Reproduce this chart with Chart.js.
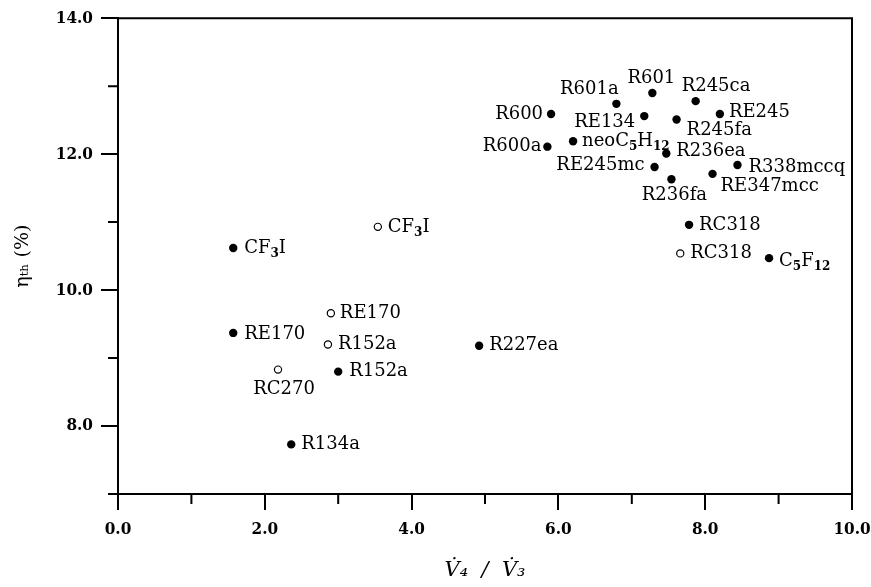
<!DOCTYPE html>
<html>
<head>
<meta charset="utf-8">
<script src="https://cdn.jsdelivr.net/npm/chart.js@4.4.0/dist/chart.umd.min.js"></script>
<style>
  html, body { margin: 0; padding: 0; background: #fff; }
</style>
</head>
<body>
<canvas id="myChart" width="871" height="587"></canvas>
<script>
// Filled markers
const filledNames = ['R601a', 'R601', 'R600', 'RE134', 'R245fa', 'neoC_5H_12', 'R600a', 'R236ea',
    'RE245mc', 'R236fa', 'R245ca', 'RE245', 'R338mccq', 'RE347mcc', 'RC318', 'C_5F_12',
    'CF_3I', 'RE170', 'R227ea', 'R152a', 'R134a'];
const filledX = [6.79, 7.28, 5.90, 7.17, 7.61, 6.20, 5.85, 7.47,
    7.31, 7.54, 7.87, 8.20, 8.44, 8.10, 7.78, 8.87,
    1.57, 1.57, 4.92, 3.00, 2.36];
const filledY = [12.74, 12.90, 12.59, 12.56, 12.51, 12.19, 12.11, 12.01,
    11.81, 11.63, 12.78, 12.59, 11.84, 11.71, 10.96, 10.47,
    10.62, 9.37, 9.18, 8.80, 7.73];

// Open markers
const openNames = ['CF_3I', 'RE170', 'R152a', 'RC270', 'RC318'];
const openX = [3.54, 2.90, 2.86, 2.18, 7.66];
const openY = [10.93, 9.66, 9.20, 8.83, 10.54];

// Tick labels (major ticks only)
const xTickLabels = ['0.0', '2.0', '4.0', '6.0', '8.0', '10.0'];
const yTickLabels = ['8.0', '10.0', '12.0', '14.0'];

// Where each label sits relative to its marker: [dx, dy, align]
const filledLabelPos = [[-27, -15, 'center'], [-1, -15, 'center'], [-8, 0, 'right'], [-9, 6, 'right'],
    [10, 11, 'left'], [9, 0, 'left'], [-6, 0, 'right'], [10, -2, 'left'],
    [-10, -2, 'right'], [3, 16, 'center'], [-14, -15, 'left'], [9, -2, 'left'],
    [11, 2, 'left'], [8, 12, 'left'], [10, 0, 'left'], [10, 3, 'left'],
    [11, 0, 'left'], [11, 1, 'left'], [10, 0, 'left'], [11, 0, 'left'], [10, 0, 'left']];
const openLabelPos = [[10, 0, 'left'], [9, 0, 'left'], [10, 0, 'left'], [6, 20, 'center'], [10, 0, 'left']];

const serif = "'DejaVu Serif', 'Liberation Serif', serif";
const tickSerif = "'DejaVu Serif Condensed', 'DejaVu Serif', serif";

// Split "neoC_5H_12" into normal / subscript pieces
function splitLabel(text) {
    const parts = [];
    const re = /_(\d+)/g;
    let last = 0, m;
    while ((m = re.exec(text)) !== null) {
        if (m.index > last) parts.push({ t: text.slice(last, m.index), sub: false });
        parts.push({ t: m[1], sub: true });
        last = re.lastIndex;
    }
    if (last < text.length) parts.push({ t: text.slice(last), sub: false });
    return parts;
}

const pointLabels = {
    id: 'pointLabels',
    afterDatasetsDraw(chart) {
        const ctx = chart.ctx;
        const normalFont = '18px ' + serif;
        const subFont = 'bold 12px ' + serif;
        ctx.save();
        ctx.fillStyle = '#000';
        ctx.textBaseline = 'middle';
        ctx.textAlign = 'left';
        chart.data.datasets.forEach(function(ds, di) {
            const meta = chart.getDatasetMeta(di);
            meta.data.forEach(function(pt, i) {
                const pos = ds.labelPos[i];
                const parts = splitLabel(ds.names[i]);
                let width = 0;
                parts.forEach(function(p) {
                    ctx.font = p.sub ? subFont : normalFont;
                    p.w = ctx.measureText(p.t).width;
                    width += p.w;
                });
                let x = pt.x + pos[0];
                if (pos[2] === 'right') x -= width;
                else if (pos[2] === 'center') x -= width / 2;
                const y = pt.y + pos[1];
                parts.forEach(function(p) {
                    ctx.font = p.sub ? subFont : normalFont;
                    ctx.fillText(p.t, x, p.sub ? y + 6 : y);
                    x += p.w;
                });
            });
        });
        ctx.restore();
    }
};

// Frame on top/right and the short minor ticks
const frameAndMinorTicks = {
    id: 'frameAndMinorTicks',
    afterDraw(chart) {
        const { ctx, chartArea, scales } = chart;
        ctx.save();
        ctx.strokeStyle = '#000';
        ctx.lineWidth = 2;
        ctx.beginPath();
        ctx.moveTo(chartArea.left, chartArea.top);
        ctx.lineTo(chartArea.right, chartArea.top);
        ctx.lineTo(chartArea.right, chartArea.bottom);
        ctx.stroke();
        ctx.beginPath();
        for (let v = 1; v < 10; v += 2) {
            const px = scales.x.getPixelForValue(v);
            ctx.moveTo(px, chartArea.bottom);
            ctx.lineTo(px, chartArea.bottom + 10);
        }
        for (let v = 7; v < 14; v += 2) {
            const py = scales.y.getPixelForValue(v);
            ctx.moveTo(chartArea.left - 10, py);
            ctx.lineTo(chartArea.left, py);
        }
        ctx.stroke();
        ctx.restore();
    }
};

const ctx = document.getElementById('myChart');
new Chart(ctx, {
    type: 'scatter',
    data: {
        datasets: [{
            label: 'filled',
            names: filledNames,
            labelPos: filledLabelPos,
            data: filledX.map(function(v, i) { return { x: v, y: filledY[i] }; }),
            pointRadius: 4.2,
            pointBackgroundColor: '#000',
            pointBorderColor: '#000',
            pointBorderWidth: 0
        }, {
            label: 'open',
            names: openNames,
            labelPos: openLabelPos,
            data: openX.map(function(v, i) { return { x: v, y: openY[i] }; }),
            pointRadius: 3.6,
            pointBackgroundColor: '#fff',
            pointBorderColor: '#000',
            pointBorderWidth: 1.2
        }]
    },
    options: {
        responsive: false,
        animation: false,
        layout: { padding: { top: 17, right: 19 } },
        plugins: {
            legend: { display: false },
            tooltip: { enabled: false }
        },
        scales: {
            x: {
                type: 'linear',
                min: 0,
                max: 10,
                afterFit: function(scale) {
                    scale.height = 93;
                    scale.paddingLeft = 0;
                    scale.paddingRight = 0;
                },
                border: { display: true, color: '#000', width: 2 },
                grid: {
                    drawOnChartArea: false,
                    drawTicks: true,
                    tickLength: 16,
                    lineWidth: 2,
                    tickColor: function(c) { return c.tick && c.tick.value % 2 === 0 ? '#000' : 'rgba(0,0,0,0)'; }
                },
                ticks: {
                    stepSize: 1,
                    maxRotation: 0,
                    autoSkip: false,
                    padding: 9,
                    color: '#000',
                    font: { family: tickSerif, size: 17, weight: 'bold' },
                    callback: function(v) { return v % 2 === 0 ? xTickLabels[v / 2] : ''; }
                },
                title: {
                    display: true,
                    text: 'V\u0307\u2084  /  V\u0307\u2083',
                    color: '#000',
                    padding: { top: 0, bottom: 4 },
                    font: { family: serif, size: 21, style: 'italic' }
                }
            },
            y: {
                type: 'linear',
                min: 7,
                max: 14,
                afterFit: function(scale) { scale.width = 118; },
                border: { display: true, color: '#000', width: 2 },
                grid: {
                    drawOnChartArea: false,
                    drawTicks: true,
                    tickLength: 17,
                    lineWidth: 2,
                    tickColor: function(c) { return c.tick && c.tick.value % 2 === 0 ? '#000' : 'rgba(0,0,0,0)'; }
                },
                ticks: {
                    stepSize: 1,
                    autoSkip: false,
                    padding: 8,
                    color: '#000',
                    font: { family: tickSerif, size: 17, weight: 'bold' },
                    callback: function(v) { return v % 2 === 0 ? yTickLabels[(v - 8) / 2] : ''; }
                },
                title: {
                    display: true,
                    text: '\u03b7\u209c\u2095 (%)',
                    color: '#000',
                    padding: { top: 12, bottom: 0 },
                    font: { family: serif, size: 19 }
                }
            }
        }
    },
    plugins: [pointLabels, frameAndMinorTicks]
});
</script>
</body>
</html>
